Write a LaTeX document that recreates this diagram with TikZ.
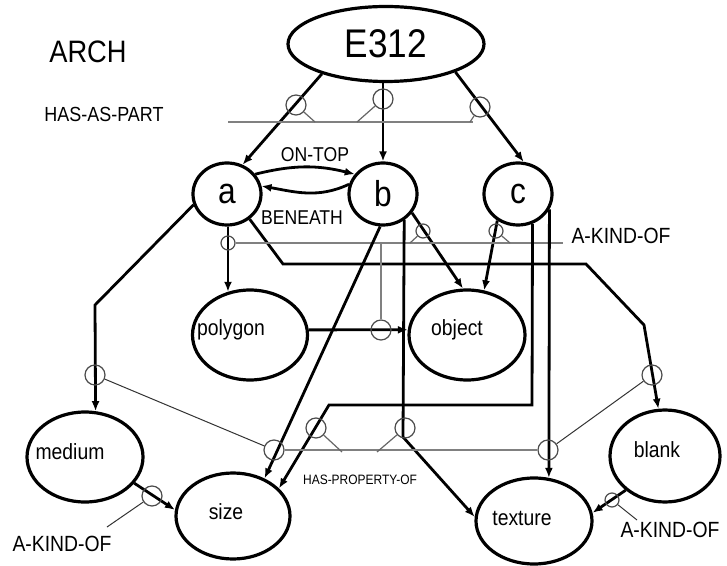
\documentclass[tikz,border=0pt]{standalone}
\usepackage{fontspec}
\setmainfont[FakeStretch=0.88]{Liberation Sans}
\usetikzlibrary{positioning,arrows.meta,shapes.geometric}
\tikzset{
    base/.style={font=\fontsize{11}{13}\selectfont, inner sep=0pt},
    frame/.style={base, ellipse, draw, line width=1.6pt},
    concept/.style={frame, font=\fontsize{18}{20}\selectfont, minimum width=34pt, minimum height=31pt},
    ring/.style={circle, draw=black!70, line width=0.6pt, minimum size=10pt, inner sep=0pt},
    smallring/.style={ring, minimum size=7pt},
    flow/.style={-{Latex[length=5pt,width=4pt]}, line width=1.4pt},
    rel/.style={draw=black!50, line width=1pt},
    tick/.style={draw=black!60, line width=0.6pt},
    link/.style={draw=black!80, line width=0.5pt},
    tag/.style={base}
}

\begin{document}
\begin{tikzpicture}[x=0.5pt, y=-0.5pt]
  \useasboundingbox (0,0) rectangle (727,566);

  % Top frame and its parts
  \node[frame, font=\fontsize{20}{22}\selectfont, minimum width=98pt, minimum height=37.5pt] (E312) at (386,44) {E312};
  \node[concept] (a) at (227,194) {a};
  \node[concept] (b) at (383,194) {b};
  \node[concept] (c) at (518,194) {c};

  % Lower frames
  \node[frame, minimum width=57.5pt, minimum height=45pt,
        label={[tag, xshift=-9.5pt, yshift=2.5pt]center:polygon}] (polygon) at (250,335) {};
  \node[frame, minimum width=58pt, minimum height=45pt,
        label={[tag, xshift=-5pt, yshift=2.5pt]center:object}] (object) at (467,335) {};
  \node[frame, minimum width=58pt, minimum height=45pt,
        label={[tag, xshift=-7.5pt, yshift=2.5pt]center:medium}] (medium) at (85,457) {};
  \node[frame, minimum width=57pt, minimum height=43pt,
        label={[tag, xshift=-3.5pt, yshift=2pt]center:size}] (size) at (233,516) {};
  \node[frame, minimum width=58pt, minimum height=43pt,
        label={[tag, xshift=-6pt, yshift=1.5pt]center:texture}] (texture) at (534,521) {};
  \node[frame, minimum width=55pt, minimum height=46pt,
        label={[tag, xshift=-4pt, yshift=3pt]center:blank}] (blank) at (665,456) {};

  % Texts
  \node[tag, font=\fontsize{15.5}{17}\selectfont] (arch) at (88,52) {ARCH};
  \node[tag, font=\fontsize{10.2}{12}\selectfont] (hasaspart) at (104,114) {HAS-AS-PART};
  \node[tag, font=\fontsize{10}{12}\selectfont] (ontop) at (315,155) {ON-TOP};
  \node[tag, font=\fontsize{10}{12}\selectfont] (beneath) at (302,218) {BENEATH};
  \node[tag] (akoTop) at (621,236) {A-KIND-OF};
  \node[tag, font=\fontsize{6.8}{8}\selectfont] (hasprop) at (360,480) {HAS-PROPERTY-OF};
  \node[tag] (akoLeft) at (62,544) {A-KIND-OF};
  \node[tag] (akoRight) at (670,530) {A-KIND-OF};

  % HAS-AS-PART arrows
  \draw[flow] (E312.205) -- (a.62);
  \draw[flow] (b |- E312.south) -- (b);
  \draw[flow] (E312.-22) -- (c.80);
  \draw[flow] (a.35) to[bend left=14] (b.145);
  \draw[flow] (b.164) to[out=205, in=-10] (a.13);

  % HAS-AS-PART bar
  \coordinate (hapL) at (228,122);
  \coordinate (hapR) at (473,122);
  \coordinate (hapT1) at (315,122);
  \coordinate (hapT2) at (357,122);
  \coordinate (hapT3) at (470,122);
  \draw[rel] (hapL) -- (hapR);
  \node[ring] (hap1) at (296,105) {};
  \node[ring] (hap2) at (383,99) {};
  \node[ring] (hap3) at (480,107) {};
  \draw[tick] (hap1) -- (hapT1);
  \draw[tick] (hap2) -- (hapT2);
  \draw[tick] (hap3) -- (hapT3);

  % A-KIND-OF arrows
  \draw[flow] (polygon.117 |- a.south) -- (polygon.117);
  \draw[flow] (polygon.5) -- (object.175);
  \draw[flow] (b.-33) -- (object.95);
  \draw[flow] (c.232) -- (object.69);
  \draw[flow] (a.198) -- (95,305) -- (medium.77);
  \draw[flow] (a.-48) -- (283,264) -- (586,264) -- (644,325) -- (blank.98);
  \draw[flow] (medium.-28) -- (size.174);
  \draw[flow] (blank.221) -- (texture.8);

  % A-KIND-OF bar
  \node[smallring] (ako1) at (228,243) {};
  \node[smallring] (ako2) at (423,231) {};
  \node[smallring] (ako3) at (496,231) {};
  \node[ring] (ako4) at (381,330) {};
  \coordinate (akoR) at (563,243);
  \coordinate (akoT2) at (410,243);
  \coordinate (akoT3) at (510,243);
  \coordinate (akoV) at (381,243);
  \draw[rel] (ako1) -- (akoR);
  \draw[tick] (ako2) -- (akoT2);
  \draw[tick] (ako3) -- (akoT3);
  \draw[rel] (akoV) -- (ako4);

  % HAS-PROPERTY-OF arrows
  \draw[flow] (b.265) -- (size.50);
  \draw[flow] (c.-64) -- (532,405) -- (329,405) -- (size.31);
  \draw[flow] (b.-51) -- (403,437) -- (texture.176);
  \draw[flow] (c.-26) -- (texture.71);

  % HAS-PROPERTY-OF bar
  \node[ring] (hp1) at (274,450) {};
  \node[ring] (hp2) at (316,428) {};
  \node[ring] (hp3) at (405,428) {};
  \node[ring] (hp4) at (548,450) {};
  \coordinate (hpT2) at (342,452);
  \coordinate (hpT3) at (377,452);
  \draw[rel] (hp1) -- (hp4);
  \draw[tick] (hp2) -- (hpT2);
  \draw[tick] (hp3) -- (hpT3);

  % Side rings and links
  \node[ring] (medRing) at (95,375) {};
  \node[ring] (blankRing) at (652,375) {};
  \node[ring] (sizeRing) at (152,496) {};
  \node[smallring] (texRing) at (612,500) {};
  \coordinate (sizeFoot) at (107,527);
  \coordinate (texFoot) at (637,520);
  \draw[link] (medRing) -- (hp1);
  \draw[link] (blankRing) -- (hp4);
  \draw[link] (sizeRing) -- (sizeFoot);
  \draw[link] (texRing) -- (texFoot);
\end{tikzpicture}
\end{document}
